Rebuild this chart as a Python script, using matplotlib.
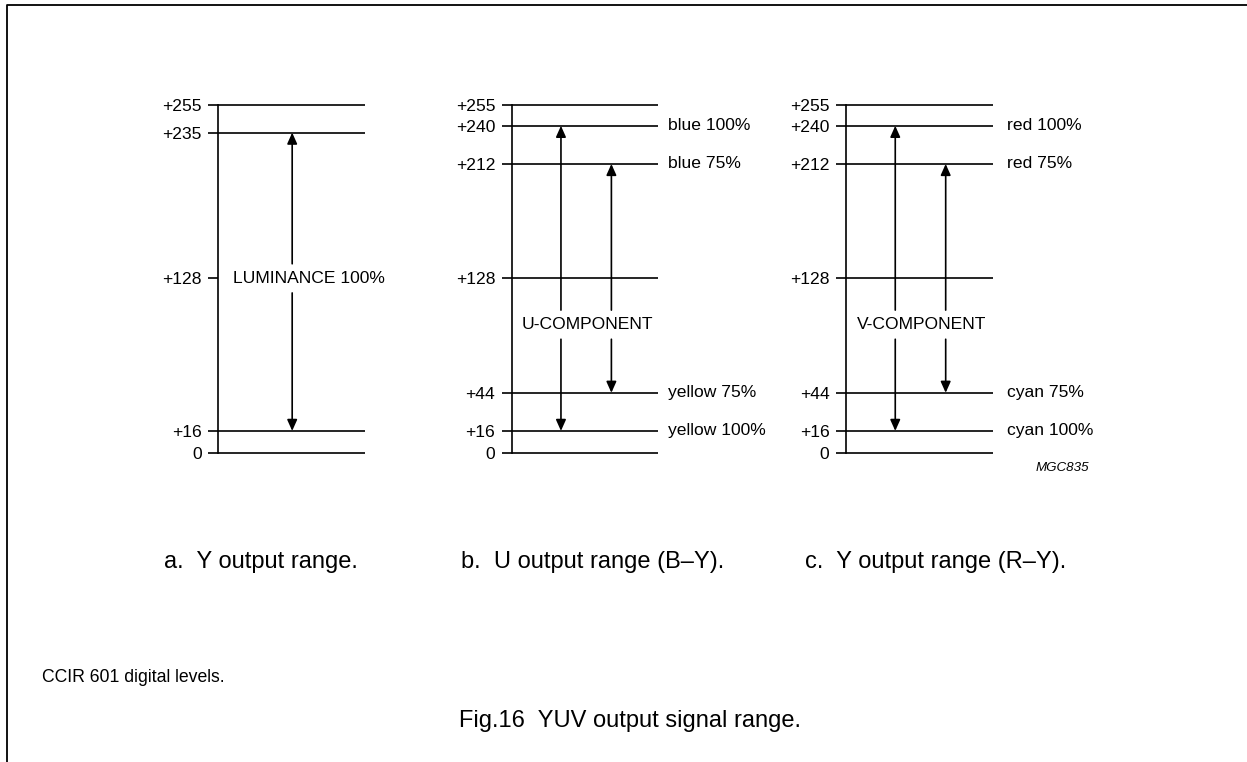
import matplotlib
matplotlib.use('Agg')
import matplotlib.pyplot as plt
from matplotlib.lines import Line2D

plt.rcParams['font.family'] = ['Liberation Sans', 'DejaVu Sans']

# CCIR 601 levels
Y_LEVELS = [0, 16, 128, 235, 255]
Y_LINES = [0, 16, 235, 255]          # +128 only gets a tick
UV_LEVELS = [0, 16, 44, 128, 212, 240, 255]
Y_RANGE = (16, 235)
UV_RANGES = [(16, 240), (44, 212)]   # 100% and 75% saturation
U_NAMES = ['yellow 100%', 'yellow 75%', 'blue 75%', 'blue 100%']
V_NAMES = ['cyan 100%', 'cyan 75%', 'red 75%', 'red 100%']
NAMED_LEVELS = [16, 44, 212, 240]
CAPTIONS = ['a.  Y output range.', 'b.  U output range (B\u2013Y).', 'c.  Y output range (R\u2013Y).']

LW = 1.2
FS = 12.6
W, H = 1247, 762


def level_label(v):
    return '0' if v == 0 else '+%d' % v


def setup_axis(left_px, levels, lines):
    ax = fig.add_axes([left_px / W, (H - 452.7) / H, 146.6 / W, 347.3 / H])
    ax.set_xlim(0, 1)
    ax.set_ylim(0, 255)
    for s in ['top', 'right', 'bottom']:
        ax.spines[s].set_visible(False)
    ax.spines['left'].set_linewidth(LW)
    ax.set_xticks([])
    ax.set_yticks(levels)
    ax.set_yticklabels([level_label(v) for v in levels], fontsize=FS)
    ax.tick_params(axis='y', length=7.2, width=LW, pad=4.7)
    ax.hlines(lines, 0, 1, color='k', lw=LW, clip_on=False)
    ax.patch.set_alpha(0)
    return ax


def split_arrow(ax, x, lo, hi, mid, gap):
    style = '-|>,head_length=0.67,head_width=0.3'
    props = dict(arrowstyle=style, mutation_scale=10, lw=LW, color='k', shrinkA=0, shrinkB=0)
    ax.annotate('', xy=(x, hi), xytext=(x, mid + gap), arrowprops=props)
    ax.annotate('', xy=(x, lo), xytext=(x, mid - gap), arrowprops=props)


fig = plt.figure(figsize=(W / 100, H / 100), dpi=100)

# panel a
ax = setup_axis(218.3, Y_LEVELS, Y_LINES)
split_arrow(ax, 0.504, Y_RANGE[0], Y_RANGE[1], 128, 10.7)
ax.text(0.098, 128, 'LUMINANCE 100%', fontsize=FS, ha='left', va='center')

# panels b and c
for left, names, comp, xoff in [(511.7, U_NAMES, 'U-COMPONENT', 1.068),
                                (846.0, V_NAMES, 'V-COMPONENT', 1.10)]:
    ax = setup_axis(left, UV_LEVELS, UV_LEVELS)
    for (lo, hi), x in zip(UV_RANGES, [0.336, 0.68]):
        split_arrow(ax, x, lo, hi, 94, 10.7)
    ax.text(0.515, 94, comp, fontsize=FS, ha='center', va='center')
    for lvl, name in zip(NAMED_LEVELS, names):
        ax.text(xoff, lvl, name, fontsize=FS, ha='left', va='center')

fig.text(1036 / W, 1 - 468 / H, 'MGC835', fontsize=9.6, style='italic', ha='left', va='center')

for x, cap in zip([164, 460.7, 805], CAPTIONS):
    fig.text(x / W, 1 - 568.3 / H, cap, fontsize=17, ha='left', va='baseline')

fig.text(41.7 / W, 1 - 681.7 / H, 'CCIR 601 digital levels.', fontsize=12.7, ha='left', va='baseline')
fig.text(0.505, 1 - 726.7 / H, 'Fig.16  YUV output signal range.', fontsize=17, ha='center', va='baseline')

# page frame (top and left edge)
fig.add_artist(Line2D([7.3 / W, 7.3 / W, 1], [0, 1 - 5.3 / H, 1 - 5.3 / H],
                      transform=fig.transFigure, color='k', lw=1.3))

fig.savefig('out.png', dpi=100)
